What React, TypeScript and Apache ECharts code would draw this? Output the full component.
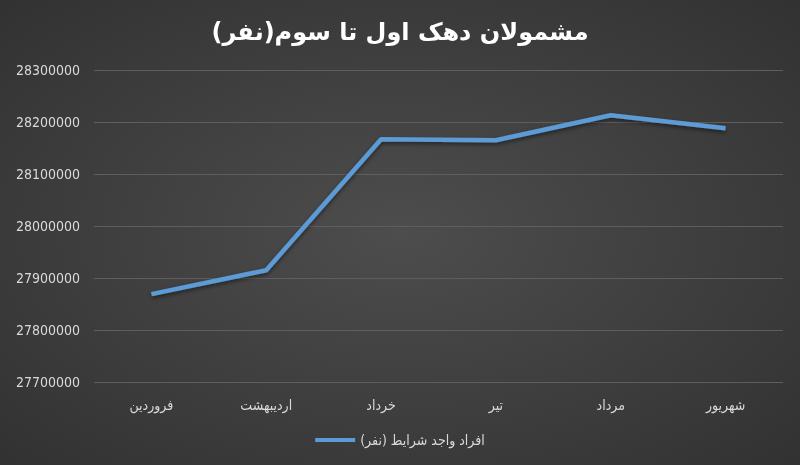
import { useEffect, useRef } from "react";
import * as echarts from "echarts";

const title = "مشمولان دهک اول تا سوم(نفر)";
const seriesName = "افراد واجد شرایط (نفر)";
const months = ["فروردین", "اردیبهشت", "خرداد", "تیر", "مرداد", "شهریور"];
const eligible = [27869000, 27915000, 28167000, 28165000, 28213000, 28188000];

const yMin = 27700000;
const yMax = 28300000;
const yStep = 100000;

const App = () => {
  const chartRef = useRef<HTMLDivElement | null>(null);

  useEffect(() => {
    if (!chartRef.current) return;
    const chart = echarts.init(chartRef.current, undefined, { renderer: "svg" });

    chart.setOption({
      animation: false,
      backgroundColor: {
        type: "radial",
        x: 0.5,
        y: 0.5,
        r: 0.75,
        colorStops: [
          { offset: 0, color: "#4d4d4d" },
          { offset: 1, color: "#303030" },
        ],
      },
      title: {
        text: title,
        left: "center",
        top: 15,
        textStyle: {
          color: "#ffffff",
          fontSize: 24,
          fontWeight: "bold",
          fontFamily: "DejaVu Sans",
        },
      },
      grid: { left: 94, right: 17, top: 70, bottom: 83 },
      xAxis: {
        type: "category",
        data: months,
        boundaryGap: true,
        axisLine: { show: false },
        axisTick: { show: false },
        axisLabel: {
          color: "#d9d9d9",
          fontSize: 14,
          margin: 16,
          fontFamily: "DejaVu Sans Condensed, DejaVu Sans",
        },
      },
      yAxis: {
        type: "value",
        min: yMin,
        max: yMax,
        interval: yStep,
        axisLine: { show: false },
        axisTick: { show: false },
        splitLine: { lineStyle: { color: "#5e5e5e", width: 1 } },
        axisLabel: {
          color: "#d9d9d9",
          fontSize: 14,
          margin: 14,
          formatter: (v: number) => String(v),
          fontFamily: "Liberation Sans Narrow, DejaVu Sans Condensed, sans-serif",
        },
      },
      legend: {
        bottom: 13,
        left: "center",
        itemWidth: 40,
        itemHeight: 4,
        icon: "rect",
        textStyle: {
          color: "#d9d9d9",
          fontSize: 14,
          fontFamily: "DejaVu Sans Condensed, DejaVu Sans",
        },
      },
      series: [
        {
          name: seriesName,
          type: "line",
          data: eligible,
          symbol: "none",
          lineStyle: {
            color: "#5b9bd5",
            width: 4.5,
            shadowColor: "rgba(0,0,0,0.5)",
            shadowBlur: 4,
            shadowOffsetY: 2,
          },
          itemStyle: { color: "#5b9bd5" },
        },
      ],
    });

    return () => {
      chart.dispose();
    };
  }, []);

  return (
    <div
      ref={chartRef}
      style={{ position: "fixed", top: 0, left: 0, width: 800, height: 465 }}
    />
  );
};

export default App;
